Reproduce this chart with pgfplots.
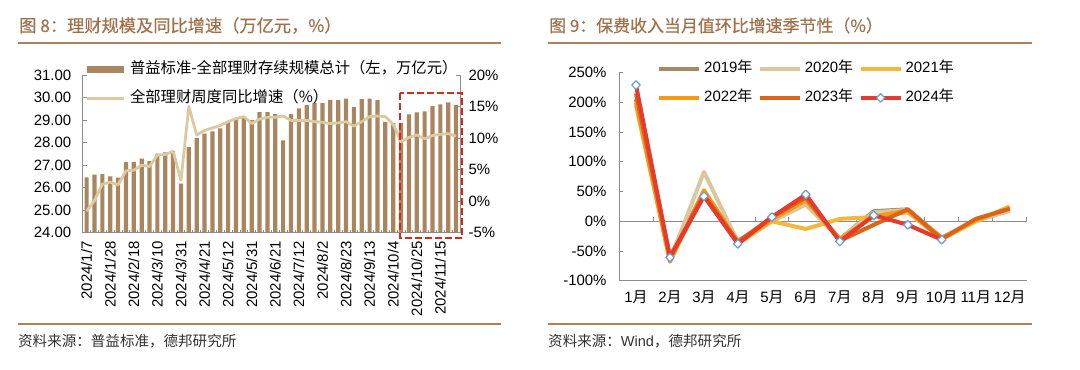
\documentclass[border=0pt]{standalone}
\usepackage{pgfplots}
\pgfplotsset{compat=1.18}
\usepackage{fontspec}
\setmainfont{Liberation Sans}
\newfontfamily\cjk{Noto Sans CJK SC}
\newfontfamily\cjkt[FakeBold=0.4]{Noto Sans CJK SC}
\definecolor{barcol}{HTML}{A88660}
\definecolor{linecol}{HTML}{DCC9A0}
\definecolor{titlecol}{HTML}{A0714A}
\definecolor{rulecol}{HTML}{B0805A}
\definecolor{axisgray}{HTML}{8C8C8C}
\definecolor{boxred}{HTML}{D42A20}
\definecolor{srcgray}{HTML}{333333}
\definecolor{c19}{HTML}{A68A64}
\definecolor{c20}{HTML}{D9C7A0}
\definecolor{c21}{HTML}{F4B73C}
\definecolor{c22}{HTML}{F59A12}
\definecolor{c23}{HTML}{DC6418}
\definecolor{c24}{HTML}{E53A2C}
\definecolor{mkblue}{HTML}{6A9BE0}

\pgfplotstableread{
x v
0 26.46
1 26.58
2 26.60
3 26.50
4 26.44
5 27.13
6 27.13
7 27.29
8 27.18
9 27.51
10 27.57
11 27.62
12 26.18
13 27.80
14 28.20
15 28.40
16 28.50
17 28.63
18 28.91
19 29.06
20 29.15
21 29.00
22 29.35
23 29.35
24 29.26
25 28.10
26 29.26
27 29.52
28 29.66
29 29.76
30 29.75
31 29.90
32 29.89
33 29.95
34 29.59
35 29.93
36 29.95
37 29.89
38 28.92
39 28.86
40 28.88
41 29.25
42 29.34
43 29.39
44 29.62
45 29.70
46 29.79
47 29.67
}\scaledata
\pgfplotstableread{
x v
0 -1.6
1 0.1
2 2.7
3 3.0
4 2.6
5 4.8
6 4.9
7 5.7
8 5.5
9 7.3
10 7.4
11 7.9
12 3.3
13 15.0
14 10.5
15 11.2
16 11.6
17 12.0
18 12.6
19 13.1
20 13.4
21 12.3
22 13.0
23 13.3
24 13.3
25 13.5
26 12.8
27 12.8
28 12.8
29 12.6
30 12.5
31 12.3
32 12.4
33 12.6
34 11.9
35 12.6
36 13.4
37 13.5
38 13.4
39 12.2
40 9.4
41 10.1
42 10.5
43 9.9
44 10.4
45 10.6
46 10.7
47 10.3
}\growthdata
\pgfplotstableread{
m y19 y20 y21 y22 y23
1 205 200 195 200 215
2 -60 -65 -65 -68 -60
3 50 83 45 52 45
4 -33 -35 -38 -35 -35
5 3 0 0 3 7
6 35 28 -13 35 40
7 -30 -30 4 -30 -33
8 17 15 7 8 -6
9 20 19 15 18 20
10 -28 -28 -30 -28 -30
11 2 0 0 2 4
12 18 18 25 22 21
}\seasondata
\pgfplotstableread{
m y24
1 229
2 -61
3 42
4 -38
5 7
6 45
7 -34
8 10
9 -6
10 -31
}\seasonlast

\begin{document}
\begin{tikzpicture}[x=1bp,y=1bp]
\path[use as bounding box] (0,0) rectangle (1080,369);
\fill[white] (0,0) rectangle (1080,369);

% ---------- titles, rules, sources ----------
\node[anchor=west, inner sep=0pt, text=titlecol, font=\cjkt\fontsize{17.3}{19}\selectfont] at (19,343.5) {图 8：理财规模及同比增速（万亿元，\%）};
\node[anchor=west, inner sep=0pt, text=titlecol, font=\cjkt\fontsize{17}{19}\selectfont] at (549,343.5) {图 9：保费收入当月值环比增速季节性（\%）};
\draw[rulecol, line width=1.8bp] (18,326.3) -- (501,326.3);
\draw[rulecol, line width=1.8bp] (548,326.3) -- (1032,326.3);
\draw[rulecol, line width=1.8bp] (18,45) -- (501,45);
\draw[rulecol, line width=1.8bp] (548,45) -- (1032,45);
\node[anchor=west, inner sep=0pt, text=srcgray, font=\cjk\fontsize{14.6}{16}\selectfont] at (18,27.5) {资料来源：普益标准，德邦研究所};
\node[anchor=west, inner sep=0pt, text=srcgray, font=\fontsize{14.6}{16}\selectfont] at (548,27.5) {{\cjk 资料来源：}Wind{\cjk ，德邦研究所}};

% ---------- left chart: bars ----------
\begin{axis}[
  at={(82.7bp,136.3bp)}, anchor=south west, scale only axis,
  width=377.3bp, height=157.7bp,
  xmin=-0.5, xmax=47.5, ymin=24, ymax=31,
  axis y line*=left, axis x line*=bottom,
  axis line style={draw=axisgray, line width=0.8bp},
  tick style={draw=axisgray, line width=0.8bp},
  tick align=inside, major tick length=4bp,
  ytick={24,25,...,31},
  /pgf/number format/assume math mode=true,
  yticklabel style={/pgf/number format/.cd, fixed, fixed zerofill, precision=2},
  ticklabel style={font=\fontsize{15}{18}\selectfont},
  yticklabel shift=8bp,
  xtick={0,3,...,45},
  xticklabels={2024/1/7,2024/1/28,2024/2/18,2024/3/10,2024/3/31,2024/4/21,2024/5/12,2024/5/31,2024/6/21,2024/7/12,2024/8/2,2024/8/23,2024/9/13,2024/10/4,2024/10/25,2024/11/15},
  xticklabel style={rotate=90, anchor=east},
  xticklabel shift=5bp,
  major x tick style={draw=none},
  minor xtick={-0.5,0.5,...,47.5}, minor tick length=3bp,
  legend cell align=left,
  legend style={draw=none, fill=none, at={(axis description cs:0,1)}, anchor=north west,
    xshift=2.3bp, yshift=12.8bp, inner sep=0pt, row sep=13.7bp,
    nodes={inner sep=0pt, text height=11bp, text depth=4bp, font=\cjk\fontsize{15.4}{18}\selectfont},
    /tikz/every odd column/.append style={column sep=5bp}},
]
\addplot[ybar, bar width=4.2bp, fill=barcol, draw=none,
  legend image code/.code={\fill[barcol] (0bp,-3.5bp) rectangle (37bp,3.5bp);}]
  table[x=x, y=v] {\scaledata};
\addlegendentry{普益标准-全部理财存续规模总计（左，万亿元）}
\addlegendimage{legend image code/.code={\draw[linecol, line width=2.8bp] (0bp,0bp) -- (37bp,0bp);}}
\addlegendentry{全部理财周度同比增速（\%）}
\end{axis}

% ---------- left chart: growth line ----------
\begin{axis}[
  at={(82.7bp,136.3bp)}, anchor=south west, scale only axis,
  width=377.3bp, height=157.7bp,
  xmin=-0.5, xmax=47.5, ymin=-5, ymax=20,
  axis y line*=right, hide x axis,
  axis line style={draw=axisgray, line width=0.8bp},
  tick style={draw=axisgray, line width=0.8bp},
  tick align=inside, major tick length=4bp,
  ytick={-5,0,...,20},
  /pgf/number format/assume math mode=true,
  yticklabel={\pgfmathprintnumber{\tick}\%},
  ticklabel style={font=\fontsize{15}{18}\selectfont},
  yticklabel shift=5bp,
  clip=false,
]
\addplot[linecol, line width=2.8bp, line join=round] table[x=x, y=v] {\growthdata};
\draw[boxred, line width=2.3bp, dash pattern=on 6.7bp off 3.3bp]
  (axis cs:39.87,17.15) rectangle (axis cs:47.76,-5.83);
\end{axis}

% ---------- right chart ----------
\begin{axis}[
  at={(619bp,88.3bp)}, anchor=south west, scale only axis,
  width=407.7bp, height=208.1bp,
  xmin=0.5, xmax=12.5, ymin=-100, ymax=250,
  axis y line*=left, axis x line*=bottom,
  x axis line style={draw=none},
  axis line style={draw=axisgray, line width=0.8bp},
  tick style={draw=axisgray, line width=0.8bp},
  tick align=inside, major tick length=4bp,
  ytick={-100,-50,...,250},
  /pgf/number format/assume math mode=true,
  yticklabel={\pgfmathprintnumber{\tick}\%},
  ticklabel style={font=\fontsize{15}{18}\selectfont},
  yticklabel shift=9bp,
  xtick={1,...,12},
  xticklabels={1{\cjk 月},2{\cjk 月},3{\cjk 月},4{\cjk 月},5{\cjk 月},6{\cjk 月},7{\cjk 月},8{\cjk 月},9{\cjk 月},10{\cjk 月},11{\cjk 月},12{\cjk 月}},
  xticklabel shift=7bp,
  major x tick style={draw=none},
  clip=false,
  legend columns=3,
  legend cell align=left,
  legend image code/.code={\draw[mark repeat=2,mark phase=2,#1] plot coordinates {(0bp,0bp) (20bp,0bp) (40bp,0bp)};},
  legend style={draw=none, fill=none, at={(axis description cs:0,1)}, anchor=north west,
    xshift=38bp, yshift=11.1bp, inner sep=0pt, row sep=13.7bp,
    nodes={inner sep=0pt, text height=11bp, text depth=4bp, font=\fontsize{15}{18}\selectfont},
    /tikz/every odd column/.append style={column sep=3bp},
    /tikz/every even column/.append style={column sep=5.5bp}},
]
\draw[axisgray, line width=0.8bp] (axis cs:0.5,0) -- (axis cs:12.5,0);
\pgfplotsinvokeforeach{1.5,2.5,3.5,4.5,5.5,6.5,7.5,8.5,9.5,10.5,11.5,12.5}{
  \draw[axisgray, line width=0.8bp] (axis cs:#1,0) -- ++(0pt,4bp);
}
\addplot[c19, line width=4bp, line join=round] table[x=m, y=y19] {\seasondata};
\addlegendentry{2019{\cjk 年}}
\addplot[c20, line width=4bp, line join=round] table[x=m, y=y20] {\seasondata};
\addlegendentry{2020{\cjk 年}}
\addplot[c21, line width=4bp, line join=round] table[x=m, y=y21] {\seasondata};
\addlegendentry{2021{\cjk 年}}
\addplot[c22, line width=4bp, line join=round] table[x=m, y=y22] {\seasondata};
\addlegendentry{2022{\cjk 年}}
\addplot[c23, line width=4bp, line join=round] table[x=m, y=y23] {\seasondata};
\addlegendentry{2023{\cjk 年}}
\addplot[c24, line width=4bp, line join=round, mark=diamond*, mark size=4.3bp,
  mark options={fill=white, draw=mkblue, line width=1.2bp, xscale=1.33}]
  table[x=m, y=y24] {\seasonlast};
\addlegendentry{2024{\cjk 年}}
\end{axis}
\end{tikzpicture}
\end{document}
